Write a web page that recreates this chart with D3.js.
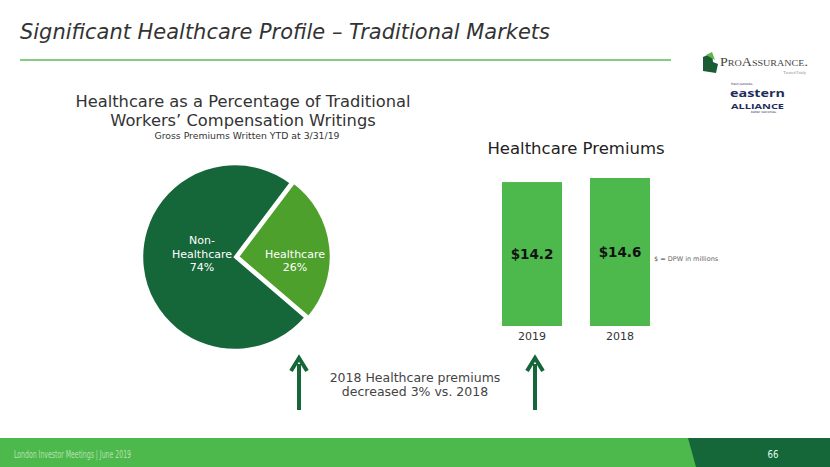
<!DOCTYPE html>
<html><head><meta charset="utf-8">
<script src="https://cdn.jsdelivr.net/npm/d3@7"></script>
<style>html,body{margin:0;padding:0;background:#fff;}svg{display:block;font-family:"DejaVu Sans",Verdana,sans-serif;}</style>
</head><body>
<svg id="c" width="830" height="467"></svg>
<script>
const pieLabels = [["Healthcare","26%"],["Non-","Healthcare","74%"]];
const pieNames = ["Healthcare","Non-Healthcare"];
const pieValues = [26, 74];
const barYears = ["2019","2018"];
const barValues = [14.2, 14.6];
const barLabels = ["$14.2","$14.6"];

const svg = d3.select("#c");
const dark = "#156638", mid = "#4ea02c", light = "#4db94c";

// title
svg.append("text").attr("x",20).attr("y",39).attr("font-size",22).attr("font-style","italic")
  .attr("fill","#333").attr("textLength",530).attr("lengthAdjust","spacingAndGlyphs")
  .text("Significant Healthcare Profile – Traditional Markets");
svg.append("line").attr("x1",20).attr("x2",671).attr("y1",60).attr("y2",60).attr("stroke","#5cbd5a").attr("stroke-width",1.5);

// logos
const lg = svg.append("g");
lg.append("path").attr("d","M703,57 L712,53 L713,62 L718,64 L716,73 L703,71 Z").attr("fill","#1a5c34");
lg.append("path").attr("d","M706,55 L712,52 L715,60 Z").attr("fill","#5cb848");
lg.append("text").attr("x",720).attr("y",66).attr("font-family","'Liberation Serif',serif").attr("font-size",12.5)
  .attr("font-variant","small-caps").attr("fill","#444").attr("textLength",88).attr("lengthAdjust","spacingAndGlyphs").text("ProAssurance.");
lg.append("text").attr("x",806).attr("y",74).attr("text-anchor","end").attr("font-family","'Liberation Serif',serif").attr("font-size",4).attr("fill","#888").text("Treated Fairly");
lg.append("text").attr("x",731).attr("y",85).attr("font-size",3).attr("fill","#1e2d5c").text("fresh outlooks.");
lg.append("text").attr("x",730).attr("y",97).attr("font-family","'Open Sans',sans-serif").attr("font-weight","bold").attr("font-size",11).attr("fill","#1e2d5c").attr("textLength",55).attr("lengthAdjust","spacingAndGlyphs").text("eastern");
lg.append("text").attr("x",731).attr("y",108.5).attr("font-family","'Open Sans',sans-serif").attr("font-weight","bold").attr("font-size",7.5).attr("fill","#1e2d5c").attr("textLength",53).attr("lengthAdjust","spacingAndGlyphs").text("ALLIANCE");
lg.append("text").attr("x",751).attr("y",113).attr("font-size",3).attr("fill","#1e2d5c").text("better outcomes.");

// pie titles
const tl = svg.append("g").attr("text-anchor","middle").attr("fill","#333");
tl.append("text").attr("x",243).attr("y",107).attr("font-size",16.3).text("Healthcare as a Percentage of Traditional");
tl.append("text").attr("x",243).attr("y",126).attr("font-size",16.3).text("Workers’ Compensation Writings");
tl.append("text").attr("x",247).attr("y",139).attr("font-size",9.3).text("Gross Premiums Written YTD at 3/31/19");

// pie
const pie = d3.pie().sort(null).startAngle(37*Math.PI/180).endAngle(397*Math.PI/180);
const arcs = pie(pieValues);
const arc = d3.arc().innerRadius(0).outerRadius(93);
const cx = 235, cy = 257;
const pg = svg.append("g").attr("transform",`translate(${cx},${cy})`);
arcs.forEach((a,i)=>{
  const m = (a.startAngle+a.endAngle)/2;
  const off = i===0 ? 3 : 0;
  const g = pg.append("g").attr("transform",`translate(${off*Math.sin(m)},${-off*Math.cos(m)})`);
  g.append("path").attr("d",arc(a)).attr("fill", i===0?mid:dark).attr("stroke","#fff").attr("stroke-width",2.5).attr("stroke-linejoin","miter");
  const lines = pieLabels[i];
  const lx = i===0 ? 57 : -33, ly = i===0 ? 1 : -13;
  const t = g.append("text").attr("text-anchor","middle").attr("fill","#fff").attr("font-size",11);
  lines.forEach((s,k)=>t.append("tspan").attr("x",lx).attr("y",ly+k*13.5).text(s));
});

// bar chart
svg.append("text").attr("x",576).attr("y",154).attr("text-anchor","middle").attr("font-size",16.5).attr("fill","#222").text("Healthcare Premiums");
const x = d3.scaleBand().domain(barYears).range([502,650]).paddingInner(0.318).paddingOuter(0);
const y = d3.scaleLinear().domain([0,14.6]).range([326,178]);
const bg = svg.append("g");
bg.selectAll("rect").data(barValues).join("rect")
  .attr("x",(d,i)=>x(barYears[i])).attr("width",x.bandwidth())
  .attr("y",d=>y(d)).attr("height",d=>y(0)-y(d)).attr("fill",light);
bg.selectAll("text.v").data(barValues).join("text").attr("class","v")
  .attr("x",(d,i)=>x(barYears[i])+x.bandwidth()/2).attr("y",d=>(y(d)+y(0))/2+5)
  .attr("text-anchor","middle").attr("font-weight","bold").attr("font-size",13.5).attr("fill","#111")
  .text((d,i)=>barLabels[i]);
const xa = svg.append("g").attr("transform","translate(0,326)").call(d3.axisBottom(x).tickSize(0).tickPadding(6));
xa.select(".domain").remove();
xa.selectAll("text").attr("font-size",11).attr("fill","#333").attr("font-family","'DejaVu Sans',Verdana,sans-serif");
svg.append("text").attr("x",654).attr("y",261).attr("font-size",6.5).attr("fill","#666").text("$ = DPW in millions");

// arrows
function arrow(xc){
  svg.append("line").attr("x1",xc).attr("x2",xc).attr("y1",364).attr("y2",410).attr("stroke",dark).attr("stroke-width",4);
  svg.append("path").attr("d",`M${xc-8},371 L${xc},358 L${xc+8},371`).attr("fill","none").attr("stroke",dark).attr("stroke-width",4);
}
arrow(299); arrow(535);
const nt = svg.append("text").attr("text-anchor","middle").attr("font-size",12.5).attr("fill","#444");
nt.append("tspan").attr("x",415).attr("y",382).text("2018 Healthcare premiums");
nt.append("tspan").attr("x",415).attr("y",396).text("decreased 3% vs. 2018");

// footer
svg.append("rect").attr("x",0).attr("y",438).attr("width",830).attr("height",29).attr("fill",light);
svg.append("path").attr("d","M688,438 L830,438 L830,467 L696,467 Z").attr("fill",dark);
svg.append("text").attr("x",14).attr("y",458).attr("font-size",10).attr("fill","#b5e0b0").attr("textLength",117).attr("lengthAdjust","spacingAndGlyphs").text("London Investor Meetings | June 2019");
svg.append("text").attr("x",773).attr("y",458).attr("text-anchor","middle").attr("font-size",10).attr("fill","#dfe").attr("textLength",11).attr("lengthAdjust","spacingAndGlyphs").text("66");
</script>
</body></html>
